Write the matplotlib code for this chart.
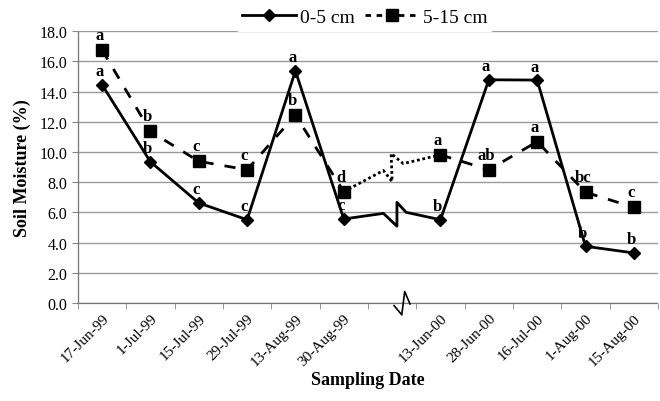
import numpy as np
import matplotlib
matplotlib.use('Agg')
import matplotlib.pyplot as plt

plt.rcParams['font.family'] = ['Liberation Serif', 'DejaVu Serif']

# sampling dates (index 6 is the break between seasons)
dates = ['17-Jun-99', '1-Jul-99', '15-Jul-99', '29-Jul-99', '13-Aug-99', '30-Aug-99',
         '', '13-Jun-00', '28-Jun-00', '16-Jul-00', '1-Aug-00', '15-Aug-00']

# soil moisture (%)
shallow = [14.45, 9.35, 6.62, 5.51, 15.37, 5.56, None, 5.51, 14.78, 14.76, 3.75, 3.31]
deep = [16.76, 11.36, 9.38, 8.82, 12.44, 7.37, None, 9.81, 8.82, 10.68, 7.33, 6.33]

# letters of significance
shallow_lbl = ['a', 'b', 'c', 'c', 'a', 'c', '', 'b', 'a', 'a', 'b', 'b']
deep_lbl = ['a', 'b', 'c', 'c', 'b', 'd', '', 'a', 'ab', 'a', 'bc', 'c']

# break connectors across the gap (category position, value)
shallow_brk_x = [5.82, 6.10, 6.10, 6.29]
shallow_brk_y = [5.93, 5.08, 6.66, 6.00]
deep_brk_x = [5.82, 6.00, 5.98, 6.23]
deep_brk_y = [8.77, 8.04, 9.89, 9.23]
axis_brk_x = [6.04, 6.20, 6.26, 6.37]
axis_brk_y = [-0.18, -0.79, 0.75, -0.07]

x = np.arange(len(dates))
seg1 = slice(0, 6)
seg2 = slice(7, 12)

fig = plt.figure(figsize=(6.6, 4.02), dpi=100)
ax = fig.add_axes([0.118, 0.244, 0.879, 0.676])

sh = np.array(shallow, dtype=float)
dp = np.array(deep, dtype=float)

# break connectors
ax.plot([x[5]] + shallow_brk_x + [x[7]], [sh[5]] + shallow_brk_y + [sh[7]],
        color='black', lw=2, zorder=3)
ax.plot([x[5]] + deep_brk_x + [x[7]], [dp[5]] + deep_brk_y + [dp[7]],
        color='black', lw=2, ls=(0, (1, 1)), zorder=3)

for s in (seg1, seg2):
    ax.plot(x[s], sh[s], color='black', lw=2, marker='D', ms=6, zorder=4)
    ax.plot(x[s], dp[s], color='black', lw=2, ls=(0, (4, 4)), marker='s', ms=8, zorder=4)

# legend proxies
h1, = ax.plot([], [], color='black', lw=2, marker='D', ms=6, label='0-5 cm')
h2, = ax.plot([], [], color='black', lw=2, ls=(0, (2, 2)), marker='s', ms=8, label='5-15 cm')

for i in x:
    if shallow_lbl[i]:
        ax.annotate(shallow_lbl[i], (i, sh[i]), xytext=(-2, 4), textcoords='offset points',
                    ha='center', va='bottom', fontsize=12, fontweight='bold', zorder=5)
    if deep_lbl[i]:
        ax.annotate(deep_lbl[i], (i, dp[i]), xytext=(-2, 5), textcoords='offset points',
                    ha='center', va='bottom', fontsize=12, fontweight='bold', zorder=5)

# axis break mark
ax.plot(axis_brk_x, axis_brk_y, color='black', lw=1.2, clip_on=False, zorder=6)

ax.set_xlim(-0.5, len(dates) - 0.5)
ax.set_ylim(0, 18)
ax.set_yticks(np.arange(0, 18.1, 2))
ax.set_yticklabels([f'{v:.1f}' for v in np.arange(0, 18.1, 2)], fontsize=11.5)
ax.set_xticks(x)
ax.set_xticklabels(dates, rotation=45, ha='right', rotation_mode='anchor', fontsize=11)
ax.set_xticks(np.arange(-0.5, len(dates), 1), minor=True)
ax.tick_params(axis='x', which='major', length=0, pad=6)
ax.tick_params(axis='x', which='minor', length=4, color='#888888', direction='out')
ax.tick_params(axis='y', length=4, color='#888888', direction='out')

ax.yaxis.grid(True, color='#9a9a9a', lw=1.0)
ax.set_axisbelow(True)
for side in ('top', 'right'):
    ax.spines[side].set_visible(False)
for side in ('left', 'bottom'):
    ax.spines[side].set_color('#777777')
    ax.spines[side].set_linewidth(0.9)
    ax.spines[side].set_linestyle((0, (1, 1)))

ax.set_xlabel('Sampling Date', fontsize=13, fontweight='bold', labelpad=2)
ax.set_ylabel('Soil Moisture (%)', fontsize=13, fontweight='bold', labelpad=6)

leg = fig.legend(handles=[h1, h2], loc='center', bbox_to_anchor=(0.553, 0.955), ncol=2,
                 fontsize=14, frameon=True, handlelength=2.8, columnspacing=0.5,
                 handletextpad=0.2, borderpad=0.3)
leg.get_frame().set_edgecolor('none')
leg.get_frame().set_facecolor('white')
leg.get_frame().set_alpha(1)
leg.set_zorder(10)

fig.savefig('out.png', dpi=100)
